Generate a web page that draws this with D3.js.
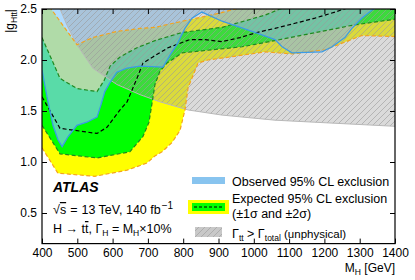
<!DOCTYPE html>
<html>
<head>
<meta charset="utf-8">
<script src="https://cdn.jsdelivr.net/npm/d3@7"></script>
<style>
  body { margin: 0; background: #fff; }
  svg { font-family: "Liberation Sans", Arial, Helvetica, sans-serif; }
</style>
</head>
<body>
<svg></svg>
<script>
const massTicks = [400, 500, 600, 700, 800, 900, 1000, 1100, 1200, 1300, 1400];
const couplingTicks = [0.5, 1.0, 1.5, 2.0, 2.5];

// curves are [M_H in GeV, |g_Htt|]
const observed = [
  [400, 1.90], [414, 1.64], [431, 1.36], [445, 1.22], [457, 1.15], [474, 1.25],
  [499, 1.36], [527, 1.39], [556, 1.44], [567, 1.56], [578, 1.69], [593, 1.78],
  [612, 1.88], [641, 1.92], [678, 1.94], [743, 1.93], [763, 2.05], [782, 2.15],
  [805, 2.31], [825, 2.41], [853, 2.47], [910, 2.38], [1003, 2.27], [1060, 2.20],
  [1080, 2.13], [1108, 2.07], [1193, 2.08], [1222, 2.13], [1258, 2.22], [1278, 2.31],
  [1306, 2.41], [1335, 2.49], [1360, 2.55], [1400, 2.62]
];
const expected = [
  [400, 1.64], [451, 1.33], [556, 1.28], [584, 1.34], [621, 1.51], [641, 1.59],
  [669, 1.82], [686, 1.97], [714, 2.03], [757, 2.12], [819, 2.20], [862, 2.20],
  [910, 2.18], [961, 2.22], [1009, 2.27], [1060, 2.31], [1117, 2.36], [1173, 2.41],
  [1230, 2.47], [1300, 2.55], [1400, 2.63]
];
const minus1s = [
  [400, 1.36], [451, 1.08], [556, 1.04], [649, 1.10], [686, 1.25], [703, 1.39],
  [711, 1.56], [720, 1.76], [734, 1.89], [754, 1.97], [797, 2.07], [853, 2.09],
  [967, 2.13], [1060, 2.19], [1278, 2.34], [1400, 2.40]
];
const plus1s = [
  [400, 2.22], [451, 1.82], [499, 1.72], [556, 1.69], [576, 1.80], [593, 1.94],
  [621, 2.03], [669, 2.12], [720, 2.19], [797, 2.27], [910, 2.32], [1032, 2.44],
  [1074, 2.50], [1150, 2.58], [1400, 2.75]
];
const minus2s = [
  [400, 1.14], [445, 0.89], [550, 0.86], [641, 0.92], [697, 0.99], [720, 1.06],
  [740, 1.10], [768, 1.19], [791, 1.31], [805, 1.51], [814, 1.73], [842, 1.97],
  [870, 2.00], [933, 2.03], [1032, 2.08], [1108, 2.06], [1202, 2.10], [1306, 2.24],
  [1400, 2.23]
];
const plus2s = [
  [400, 2.63], [428, 2.49], [499, 2.15], [544, 2.22], [612, 2.28], [678, 2.31],
  [720, 2.32], [771, 2.36], [904, 2.46], [947, 2.50], [1000, 2.55], [1400, 2.80]
];
const unphysical = [
  [440, 2.65], [451, 2.50], [471, 2.34], [499, 2.15], [544, 1.92], [612, 1.76],
  [678, 1.66], [734, 1.59], [814, 1.51], [910, 1.46], [1060, 1.41], [1173, 1.39],
  [1400, 1.35]
];

const width = 415;
const height = 280;

const svg = d3.select('svg')
  .attr('width', width)
  .attr('height', height);

const x = d3.scaleLinear().domain([400, 1400]).range([42, 395]);
const y = d3.scaleLinear().domain([0.2, 2.5]).range([243.6, 9]);

const defs = svg.append('defs');
defs.append('clipPath').attr('id', 'plot-clip')
  .append('rect')
    .attr('x', x(400)).attr('y', y(2.5))
    .attr('width', x(1400) - x(400))
    .attr('height', y(0.2) - y(2.5));

const hatch = defs.append('pattern')
  .attr('id', 'hatch')
  .attr('patternUnits', 'userSpaceOnUse')
  .attr('width', 6).attr('height', 6);
hatch.append('path')
  .attr('d', 'M0,6 L6,0 M-1,1 L1,-1 M5,7 L7,5')
  .attr('stroke', '#9a9a9a')
  .attr('stroke-width', 0.6);

const line = d3.line()
  .x(d => x(d[0]))
  .y(d => y(d[1]));

function band(lower, upper) {
  return line(lower.concat(upper.slice().reverse())) + 'Z';
}

// everything above a limit curve is excluded, close it off above the frame
function above(curve) {
  const first = curve[0][0];
  const last = curve[curve.length - 1][0];
  return line(curve.concat([[last, 3.2], [first, 3.2]])) + 'Z';
}

const plot = svg.append('g').attr('clip-path', 'url(#plot-clip)');

plot.append('path').attr('d', band(minus2s, plus2s)).attr('fill', '#ffff00');
plot.append('path').attr('d', band(minus1s, plus1s)).attr('fill', '#00ff00');

plot.append('path').attr('d', above(observed))
  .attr('fill', 'rgb(135,200,255)')
  .attr('fill-opacity', 0.66);

plot.append('path').attr('d', above(unphysical))
  .attr('fill', '#9e9e9e')
  .attr('fill-opacity', 0.38);
plot.append('path').attr('d', above(unphysical))
  .attr('fill', 'url(#hatch)');
plot.append('path').attr('d', line(unphysical))
  .attr('fill', 'none')
  .attr('stroke', '#b8b8b8')
  .attr('stroke-width', 1);

const dashed = [
  [plus2s, '#f5a31c'],
  [minus2s, '#f5a31c'],
  [plus1s, '#1f8a1f'],
  [minus1s, '#1f8a1f'],
  [expected, '#000']
];
dashed.forEach(([curve, color]) => {
  plot.append('path')
    .attr('d', line(curve))
    .attr('fill', 'none')
    .attr('stroke', color)
    .attr('stroke-width', 1.2)
    .attr('stroke-dasharray', '4,2.5');
});

plot.append('path')
  .attr('d', line(observed))
  .attr('fill', 'none')
  .attr('stroke', '#3b9be6')
  .attr('stroke-width', 1.3);

// axes, ticks pointing inward
const axisFont = g => g.selectAll('text')
  .attr('font-size', '12px')
  .attr('fill', '#000')
  .attr('font-family', '"Liberation Sans", Arial, sans-serif');

svg.append('g')
  .attr('transform', `translate(0,${y(0.2)})`)
  .call(d3.axisBottom(x).tickValues(massTicks).tickSizeInner(-5).tickSizeOuter(0)
    .tickPadding(5).tickFormat(d3.format('d')))
  .call(axisFont)
  .call(g => g.select('.domain').remove());

svg.append('g')
  .attr('transform', `translate(0,${y(2.5)})`)
  .call(d3.axisTop(x).tickValues(massTicks).tickSizeInner(-5).tickSizeOuter(0).tickFormat(''))
  .call(g => g.select('.domain').remove());

svg.append('g')
  .attr('transform', `translate(${x(400)},0)`)
  .call(d3.axisLeft(y).tickValues(couplingTicks).tickSizeInner(-5).tickSizeOuter(0)
    .tickPadding(5).tickFormat(d3.format('.1f')))
  .call(axisFont)
  .call(g => g.select('.domain').remove());

svg.append('g')
  .attr('transform', `translate(${x(1400)},0)`)
  .call(d3.axisRight(y).tickValues(couplingTicks).tickSizeInner(-5).tickSizeOuter(0).tickFormat(''))
  .call(g => g.select('.domain').remove());

svg.selectAll('.tick line').attr('stroke', '#000').attr('stroke-width', 1);

svg.append('rect')
  .attr('x', x(400)).attr('y', y(2.5))
  .attr('width', x(1400) - x(400))
  .attr('height', y(0.2) - y(2.5))
  .attr('fill', 'none')
  .attr('stroke', '#000')
  .attr('stroke-width', 1.2);

// axis titles
const xTitle = svg.append('text')
  .attr('x', 395).attr('y', 272)
  .attr('text-anchor', 'end')
  .attr('font-size', '12px');
xTitle.append('tspan').text('M');
xTitle.append('tspan').text('H').attr('font-size', '8.5px').attr('dy', 2.5);
xTitle.append('tspan').text(' [GeV]').attr('dy', -2.5);

const yTitle = svg.append('text')
  .attr('transform', 'translate(14,9) rotate(-90)')
  .attr('text-anchor', 'end')
  .attr('font-size', '12px');
yTitle.append('tspan').text('|g');
yTitle.append('tspan').text('Htt').attr('font-size', '8.5px').attr('dy', 2.5);
yTitle.append('tspan').text('|').attr('dy', -2.5);

// labels in the plot
svg.append('text')
  .attr('x', 53).attr('y', 192)
  .attr('font-size', '14px')
  .attr('font-weight', 'bold')
  .attr('font-style', 'italic')
  .text('ATLAS');

const energy = svg.append('text')
  .attr('x', 53).attr('y', 214)
  .attr('font-size', '12.5px');
energy.append('tspan').text('\u221A');
energy.append('tspan').text('s').style('text-decoration', 'overline');
energy.append('tspan').text('=').attr('dx', 4);
energy.append('tspan').text('13 TeV, 140 fb').attr('dx', 4);
energy.append('tspan').text('\u22121').attr('font-size', '10px').attr('dy', -5).attr('dx', 1);

const model = svg.append('text')
  .attr('x', 53).attr('y', 233)
  .attr('font-size', '12.5px');
model.append('tspan').text('H \u2192 t');
model.append('tspan').text('t').style('text-decoration', 'overline');
model.append('tspan').text(', \u0393');
model.append('tspan').text('H').attr('font-size', '8.5px').attr('dy', 2.5);
model.append('tspan').text(' = M').attr('dy', -2.5);
model.append('tspan').text('H').attr('font-size', '8.5px').attr('dy', 2.5);
model.append('tspan').text('\u00D710%').attr('dy', -2.5);

// legend
const legend = svg.append('g').attr('font-size', '12.5px');

legend.append('rect')
  .attr('x', 192).attr('y', 177).attr('width', 33).attr('height', 7)
  .attr('fill', '#88c4ef');
legend.append('text').attr('x', 232).attr('y', 186)
  .text('Observed 95% CL exclusion');

legend.append('rect')
  .attr('x', 188).attr('y', 200).attr('width', 41).attr('height', 14)
  .attr('fill', '#ffff00');
legend.append('rect')
  .attr('x', 192).attr('y', 203).attr('width', 33).attr('height', 8)
  .attr('fill', '#00ff00');
legend.append('line')
  .attr('x1', 194).attr('x2', 224).attr('y1', 207).attr('y2', 207)
  .attr('stroke', '#000').attr('stroke-width', 1.2)
  .attr('stroke-dasharray', '3,2');
legend.append('text').attr('x', 232).attr('y', 203)
  .text('Expected 95% CL exclusion');
legend.append('text').attr('x', 232).attr('y', 218)
  .text('(\u00B11\u03C3 and \u00B12\u03C3)');

legend.append('rect')
  .attr('x', 195).attr('y', 227).attr('width', 27).attr('height', 10)
  .attr('fill', '#c8c8c8');
legend.append('rect')
  .attr('x', 195).attr('y', 227).attr('width', 27).attr('height', 10)
  .attr('fill', 'url(#hatch)');
const unphys = legend.append('text').attr('x', 232).attr('y', 238);
unphys.append('tspan').text('\u0393');
unphys.append('tspan').text('tt').attr('font-size', '8.5px').attr('dy', 2.5);
unphys.append('tspan').text(' > \u0393').attr('dy', -2.5);
unphys.append('tspan').text('total').attr('font-size', '8.5px').attr('dy', 2.5);
unphys.append('tspan').text(' (unphysical)').attr('dy', -3).attr('font-size', '11.5px');
</script>
</body>
</html>
